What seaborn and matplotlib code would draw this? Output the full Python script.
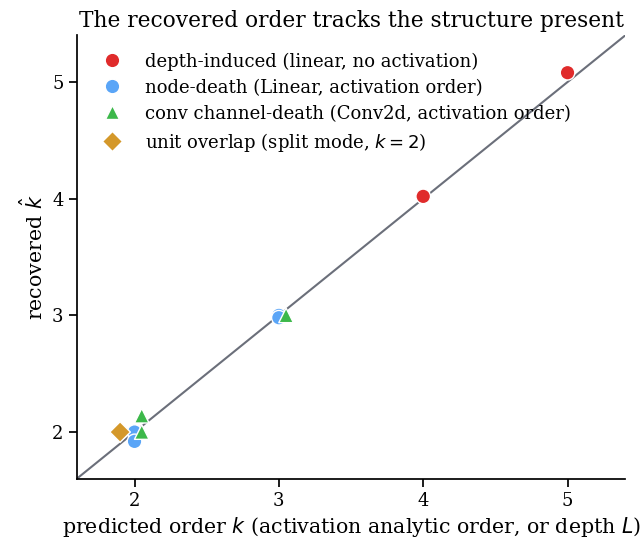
import matplotlib
matplotlib.use("Agg")
import matplotlib.pyplot as plt
import seaborn as sns
import pandas as pd

sns.set_theme(style="ticks")
plt.rcParams['font.family'] = ['DejaVu Serif']
plt.rcParams['mathtext.fontset'] = 'dejavusans'
for k in ["text.color", "axes.labelcolor", "xtick.color", "ytick.color", "axes.edgecolor"]:
    plt.rcParams[k] = "black"

groups = ["depth-induced (linear, no activation)",
          "node-death (Linear, activation order)",
          "conv channel-death (Conv2d, activation order)",
          "unit overlap (split mode, $k=2$)"]
depth_x = [4.0, 5.0]
depth_y = [4.02, 5.08]
node_x = [2.0, 2.0, 3.0, 3.0]
node_y = [2.0, 1.92, 3.0, 2.98]
conv_x = [2.05, 2.05, 3.05]
conv_y = [2.14, 2.0, 3.0]
overlap_x = [1.9]
overlap_y = [2.0]

colors = ["#e02b2b", "#5aa5f7", "#3cb84a", "#d4982a"]
markers = ["o", "o", "^", "D"]

df = pd.concat([
    pd.DataFrame({"x": depth_x, "y": depth_y, "g": groups[0]}),
    pd.DataFrame({"x": node_x, "y": node_y, "g": groups[1]}),
    pd.DataFrame({"x": conv_x, "y": conv_y, "g": groups[2]}),
    pd.DataFrame({"x": overlap_x, "y": overlap_y, "g": groups[3]}),
], ignore_index=True)

fig, ax = plt.subplots(figsize=(6.4, 5.44), dpi=100)
ax.plot([1.6, 5.4], [1.6, 5.4], color="#6b6f7a", lw=1.5, zorder=1)
sns.scatterplot(data=df, x="x", y="y", hue="g", style="g", hue_order=groups,
                style_order=groups, palette=colors, markers=markers, s=110,
                edgecolor="white", linewidth=1, ax=ax, zorder=3)
ax.set_xlim(1.6, 5.4)
ax.set_ylim(1.6, 5.4)
ax.set_xticks([2, 3, 4, 5])
ax.set_yticks([2, 3, 4, 5])
ax.tick_params(labelsize=13)
ax.set_xlabel("predicted order $k$ (activation analytic order, or depth $L$)", fontsize=14.8)
ax.set_ylabel("recovered $\\hat{k}$", fontsize=14.8)
ax.set_title("The recovered order tracks the structure present", fontsize=15.6)
leg = ax.legend(loc="upper left", frameon=False, fontsize=13, title=None,
                handletextpad=0.8, labelspacing=0.44, borderaxespad=0.4,
                borderpad=0.55)
sns.despine(ax=ax)
fig.subplots_adjust(left=0.12, right=0.977, bottom=0.12, top=0.935)
fig.savefig("out.png", dpi=100)
